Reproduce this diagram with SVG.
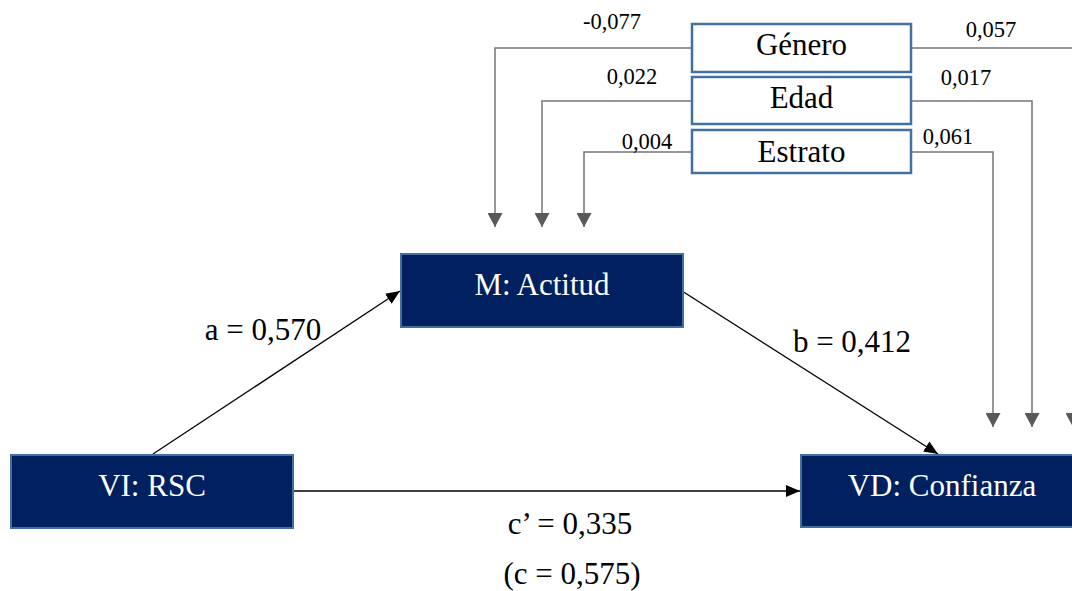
<svg xmlns="http://www.w3.org/2000/svg" width="1072" height="591" viewBox="0 0 1072 591" font-family="'Liberation Serif', 'DejaVu Serif', serif">
<style>
text{font-family:'Liberation Serif','DejaVu Serif',serif;fill:#000}
.big{font-size:31px}
.sm{font-size:22.5px}
.w{fill:#fff}
.nav{fill:#002060;stroke:#41719c;stroke-width:2}
.cov{fill:#fff;stroke:#41719c;stroke-width:2.5}
.g{fill:none;stroke:#767676;stroke-width:1.5}
.k{fill:none;stroke:#000;stroke-width:1.3}
</style>
<defs>
<marker id="ak" markerWidth="14" markerHeight="12" refX="14" refY="6" orient="auto" markerUnits="userSpaceOnUse"><path d="M0,0 L14,6 L0,12 Z" fill="#000"/></marker>
<marker id="ag" markerWidth="14" markerHeight="15" refX="14" refY="7.5" orient="auto" markerUnits="userSpaceOnUse"><path d="M0,0 L14,7.5 L0,15 Z" fill="#595959"/></marker>
</defs>
<g id="connectors">
<path class="g" d="M692,48 H495 V227" marker-end="url(#ag)"/>
<path class="g" d="M692,101 H542 V227" marker-end="url(#ag)"/>
<path class="g" d="M692,152 H584 V227" marker-end="url(#ag)"/>
<path class="g" d="M911,48 H1073 V427" marker-end="url(#ag)"/>
<path class="g" d="M911,101 H1032 V427" marker-end="url(#ag)"/>
<path class="g" d="M911,152 H993 V427" marker-end="url(#ag)"/>
<path class="k" d="M153,454 L400,291" marker-end="url(#ak)"/>
<path class="k" d="M682,291 L938,454" marker-end="url(#ak)"/>
<path class="k" d="M293,491 L800,491" marker-end="url(#ak)"/>
<text class="sm" x="612" y="29" text-anchor="middle">-0,077</text>
<text class="sm" x="632" y="84" text-anchor="middle">0,022</text>
<text class="sm" x="647" y="149" text-anchor="middle">0,004</text>
<text class="sm" x="991" y="37" text-anchor="middle">0,057</text>
<text class="sm" x="966" y="85" text-anchor="middle">0,017</text>
<text class="sm" x="948" y="144" text-anchor="middle">0,061</text>
<text class="big" x="263" y="340" text-anchor="middle">a = 0,570</text>
<text class="big" x="852" y="352" text-anchor="middle">b = 0,412</text>
<text class="big" x="570" y="534" text-anchor="middle">c’ = 0,335</text>
<text class="big" x="572" y="584" text-anchor="middle">(c = 0,575)</text>
</g>
<g id="genero"><rect class="cov" x="692" y="24" width="219" height="48"/><text class="big" x="801.5" y="55" text-anchor="middle">Género</text></g>
<g id="edad"><rect class="cov" x="692" y="77" width="219" height="47"/><text class="big" x="801.5" y="108" text-anchor="middle">Edad</text></g>
<g id="estrato"><rect class="cov" x="692" y="130" width="219" height="43"/><text class="big" x="801.5" y="162" text-anchor="middle">Estrato</text></g>
<g id="actitud"><rect class="nav" x="401" y="254" width="282" height="73"/><text class="big w" x="542" y="295" text-anchor="middle">M: Actitud</text></g>
<g id="rsc"><rect class="nav" x="11" y="455" width="282" height="73"/><text class="big w" x="152" y="496" text-anchor="middle">VI: RSC</text></g>
<g id="confianza"><rect class="nav" x="801" y="455" width="282" height="72"/><text class="big w" x="942" y="496" text-anchor="middle">VD: Confianza</text></g>
</svg>
